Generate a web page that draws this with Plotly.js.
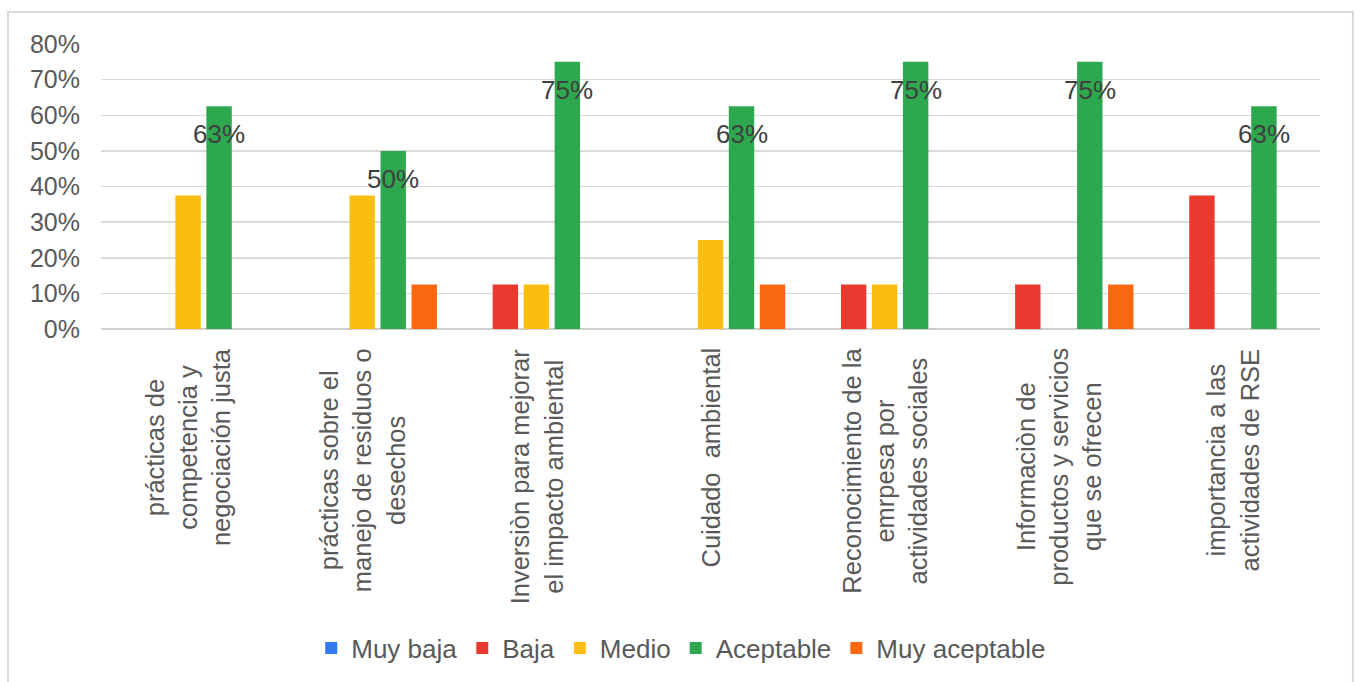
<!DOCTYPE html>
<html>
<head>
<meta charset="utf-8">
<script src="https://cdn.plot.ly/plotly-3.0.1.min.js"></script>
<style>
html,body{margin:0;padding:0;background:#fff;}
#chart{width:1360px;height:682px;}
</style>
</head>
<body>
<div id="chart"></div>
<script>
var categories = [
  "prácticas de<br>competencia y<br>negociación justa",
  "prácticas sobre el<br>manejo de residuos o<br>desechos",
  "Inversiòn para mejorar<br>el impacto ambiental",
  "Cuidado  ambiental",
  "Reconocimiento de la<br>emrpesa por<br>actividades sociales",
  "Informaciòn de<br>productos y servicios<br>que se ofrecen",
  "importancia a las<br>actividades de RSE"
];
var seriesNames = ["Muy baja", "Baja", "Medio", "Aceptable", "Muy aceptable"];
var muyBaja      = [0, 0, 0, 0, 0, 0, 0];
var baja         = [0, 0, 12.5, 0, 12.5, 12.5, 37.5];
var medio        = [37.5, 37.5, 12.5, 25, 12.5, 0, 0];
var aceptable    = [62.5, 50, 75, 62.5, 75, 75, 62.5];
var muyAceptable = [0, 12.5, 0, 12.5, 0, 12.5, 0];
var yTickVals = [0, 10, 20, 30, 40, 50, 60, 70, 80];
var yTickText = ["0%", "10%", "20%", "30%", "40%", "50%", "60%", "70%", "80%"];

var colors = ["#2F7BEF", "#EA3A2F", "#FBBE10", "#2EA84E", "#F96810"];
var allValues = [muyBaja, baja, medio, aceptable, muyAceptable];

var FONT = "Liberation Sans, Arial, sans-serif";
var traces = allValues.map(function (vals, i) {
  return {
    type: "bar",
    name: seriesNames[i],
    x: categories,
    y: vals,
    marker: { color: colors[i], line: { width: 0 } },
    hoverinfo: "y+name"
  };
});

var annotations = [];
// category labels (rotated, centered lines)
categories.forEach(function (c) {
  annotations.push({
    x: c, y: 0, xref: "x", yref: "y",
    yshift: -17,
    text: c, showarrow: false, textangle: -90,
    xanchor: "center", yanchor: "top", align: "center",
    font: { family: FONT, size: 25.5, color: "#595959" }
  });
});
// data labels for "Aceptable"
aceptable.forEach(function (v, i) {
  annotations.push({
    x: categories[i], y: v, xref: "x", yref: "y",
    xshift: 31, yshift: -28,
    text: Math.round(v) + "%", showarrow: false,
    xanchor: "center", yanchor: "middle",
    font: { family: FONT, size: 26, color: "#404040" }
  });
});

var layout = {
  width: 1360, height: 682,
  margin: { l: 101, r: 40, t: 44, b: 352, pad: 0 },
  paper_bgcolor: "#ffffff",
  plot_bgcolor: "#ffffff",
  barmode: "group",
  bargap: 0.11,
  bargroupgap: 0.18,
  showlegend: true,
  legend: {
    orientation: "h",
    x: 0.476, xanchor: "center",
    y: -1.112, yanchor: "middle",
    font: { family: FONT, size: 26, color: "#595959" },
    bgcolor: "rgba(0,0,0,0)",
    traceorder: "normal"
  },
  xaxis: {
    type: "category",
    showticklabels: false,
    showgrid: false,
    zeroline: false,
    showline: false,
    ticks: ""
  },
  yaxis: {
    range: [0, 80],
    tickvals: yTickVals,
    ticktext: yTickText,
    showgrid: true,
    gridcolor: "#D9D9D9",
    gridwidth: 1.5,
    zeroline: true,
    zerolinecolor: "#CFCFCF",
    zerolinewidth: 2,
    showline: false,
    ticks: "",
    ticklabelstandoff: 20,
    tickfont: { family: FONT, size: 25, color: "#595959" }
  },
  annotations: annotations,
  shapes: [{
    type: "rect", xref: "paper", yref: "paper", layer: "below",
    x0: -0.0763, x1: 1.027, y0: -1.3, y1: 1.112,
    line: { color: "#D9D9D9", width: 2 },
    fillcolor: "rgba(0,0,0,0)"
  }]
};

Plotly.newPlot("chart", traces, layout, { displayModeBar: false, staticPlot: true });
</script>
</body>
</html>
